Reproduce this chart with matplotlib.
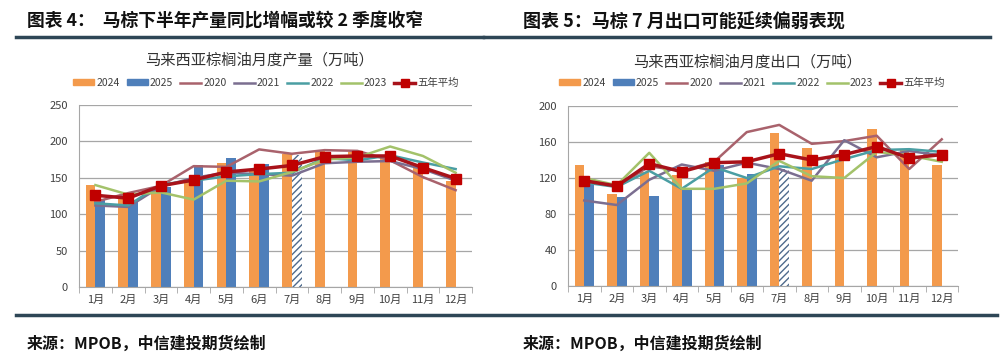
import numpy as np
import matplotlib
matplotlib.use("Agg")
import matplotlib.pyplot as plt
from matplotlib.lines import Line2D
from matplotlib.patches import Patch

plt.rcParams['font.family'] = ['Noto Sans CJK SC', 'DejaVu Sans']

months = ['1月', '2月', '3月', '4月', '5月', '6月', '7月', '8月', '9月', '10月', '11月', '12月']

# production, 万吨
prod_2024 = [140, 123, 137, 147, 170, 159, 183, 188, 186, 179, 165, 146]
prod_2025 = [120, 117, 138, 167, 177, 169]
prod_2025_jul_est = 182
prod_2020 = [117, 129, 139, 166, 165, 189, 183, 188, 187, 174, 151, 133]
prod_2021 = [112, 110, 138, 150, 157, 155, 153, 170, 172, 173, 162, 146]
prod_2022 = [115, 112, 141, 146, 152, 155, 157, 177, 174, 181, 171, 162]
prod_2023 = [140, 127, 130, 120, 146, 145, 158, 175, 178, 193, 180, 157]
prod_avg = [126, 122, 139, 147, 158, 162, 167, 179, 180, 180, 164, 149]

# exports, 万吨
exp_2024 = [135, 102, 127, 123, 138, 120, 170, 153, 145, 174, 151, 135]
exp_2025 = [114, 99, 100, 108, 134, 125]
exp_2025_jul_est = 130
exp_2020 = [120, 110, 133, 128, 138, 171, 179, 158, 161, 167, 130, 163]
exp_2021 = [95, 90, 118, 135, 128, 137, 130, 117, 162, 143, 150, 145]
exp_2022 = [115, 110, 128, 108, 132, 120, 133, 130, 141, 151, 152, 149]
exp_2023 = [120, 112, 148, 108, 108, 114, 139, 122, 120, 149, 145, 138]
exp_avg = [117, 111, 136, 127, 137, 138, 147, 140, 146, 155, 142, 146]

c24 = '#F39A4C'
c25 = '#4F7FBA'
c20 = '#A9626C'
c21 = '#7B6E90'
c22 = '#4A9EA3'
c23 = '#A3C26A'
cavg = '#A8121A'
grid_c = '#A6A6A6'
rule_c = '#2E4656'

W, H = 1002, 364
fig = plt.figure(figsize=(W / 100, H / 100), dpi=100)


def fx(px):
    return px / W


def fy(py):
    return 1 - py / H


def draw_panel(rect, b24, b25, est, l20, l21, l22, l23, lavg, ymax, ystep):
    ax = fig.add_axes(rect)
    x = np.arange(12)
    bw = 0.3
    ax.bar(x - 0.15, b24, bw, color=c24, zorder=2)
    x25 = np.arange(len(b25))
    ax.bar(x25 + 0.15, b25, bw, color=c25, zorder=2)
    ax.bar([len(b25) + 0.15], [est], bw, color='white', edgecolor='#4E6A8C',
           hatch='/////', linewidth=0, zorder=2)
    for vals, col in [(l20, c20), (l21, c21), (l22, c22), (l23, c23)]:
        ax.plot(x, vals, color=col, lw=1.8, zorder=3)
    ax.plot(x, lavg, color=cavg, lw=2.5, marker='s', ms=6.5,
            markerfacecolor='#C00000', markeredgecolor='#C00000', zorder=4)
    ax.set_xlim(-0.5, 11.5)
    ax.set_ylim(0, ymax)
    ax.set_yticks(np.arange(0, ymax + 1, ystep))
    ax.yaxis.grid(True, color=grid_c, lw=0.9)
    ax.set_axisbelow(True)
    for s in ['top', 'right']:
        ax.spines[s].set_visible(False)
    ax.spines['left'].set_color(grid_c)
    ax.spines['bottom'].set_color(grid_c)
    ax.set_xticks(x)
    ax.set_xticklabels(months)
    ax.set_xticks(np.arange(-0.5, 12, 1), minor=True)
    ax.tick_params(axis='x', which='major', length=0, labelsize=8, pad=6,
                   colors='#404040')
    ax.tick_params(axis='x', which='minor', length=4, color=grid_c)
    ax.tick_params(axis='y', length=0, labelsize=8, pad=8, colors='#404040')
    return ax


draw_panel([fx(79), fy(287), fx(472 - 79), (287 - 105) / H],
           prod_2024, prod_2025, prod_2025_jul_est,
           prod_2020, prod_2021, prod_2022, prod_2023, prod_avg, 250, 50)
draw_panel([fx(568), fy(286), fx(958 - 568), (286 - 106) / H],
           exp_2024, exp_2025, exp_2025_jul_est,
           exp_2020, exp_2021, exp_2022, exp_2023, exp_avg, 200, 40)

handles = [Patch(color=c24), Patch(color=c25),
           Line2D([], [], color=c20, lw=1.8), Line2D([], [], color=c21, lw=1.8),
           Line2D([], [], color=c22, lw=1.8), Line2D([], [], color=c23, lw=1.8),
           Line2D([], [], color=cavg, lw=2.5, marker='s', ms=6,
                  markerfacecolor='#C00000', markeredgecolor='#C00000')]
labels = ['2024', '2025', '2020', '2021', '2022', '2023', '五年平均']
for cx in (266, 752):
    fig.legend(handles, labels, ncol=7, loc='center', frameon=False,
               bbox_to_anchor=(fx(cx), fy(83)), fontsize=7.5, handlelength=2.0,
               handleheight=0.5, columnspacing=0.7, handletextpad=0.2,
               labelcolor='#404040')

fig.text(fx(259), fy(60), '马来西亚棕榈油月度产量（万吨）', ha='center', va='center',
         fontsize=11, color='#333333')
fig.text(fx(747), fy(62), '马来西亚棕榈油月度出口（万吨）', ha='center', va='center',
         fontsize=11, color='#333333')

fig.text(fx(27), fy(22), '图表 4：  马棕下半年产量同比增幅或较 2 季度收窄', ha='left',
         va='center', fontsize=12.8, fontweight='bold', color='#111111')
fig.text(fx(523), fy(22), '图表 5：马棕 7 月出口可能延续偏弱表现', ha='left',
         va='center', fontsize=13, fontweight='bold', color='#111111')

fig.text(fx(27), fy(344), '来源：MPOB，中信建投期货绘制', ha='left', va='center',
         fontsize=11.5, fontweight='bold', style='italic', color='#111111')
fig.text(fx(523), fy(344), '来源：MPOB，中信建投期货绘制', ha='left', va='center',
         fontsize=11.5, fontweight='bold', style='italic', color='#111111')

fig.add_artist(Line2D([fx(16), fx(483)], [fy(37), fy(37)], color=rule_c, lw=2.5))
fig.add_artist(Line2D([fx(484), fx(990)], [fy(37), fy(37)], color=rule_c, lw=2.5))
fig.add_artist(Line2D([fx(16), fx(997)], [fy(315), fy(315)], color=rule_c, lw=2.5))

fig.savefig('out.png', dpi=100)
